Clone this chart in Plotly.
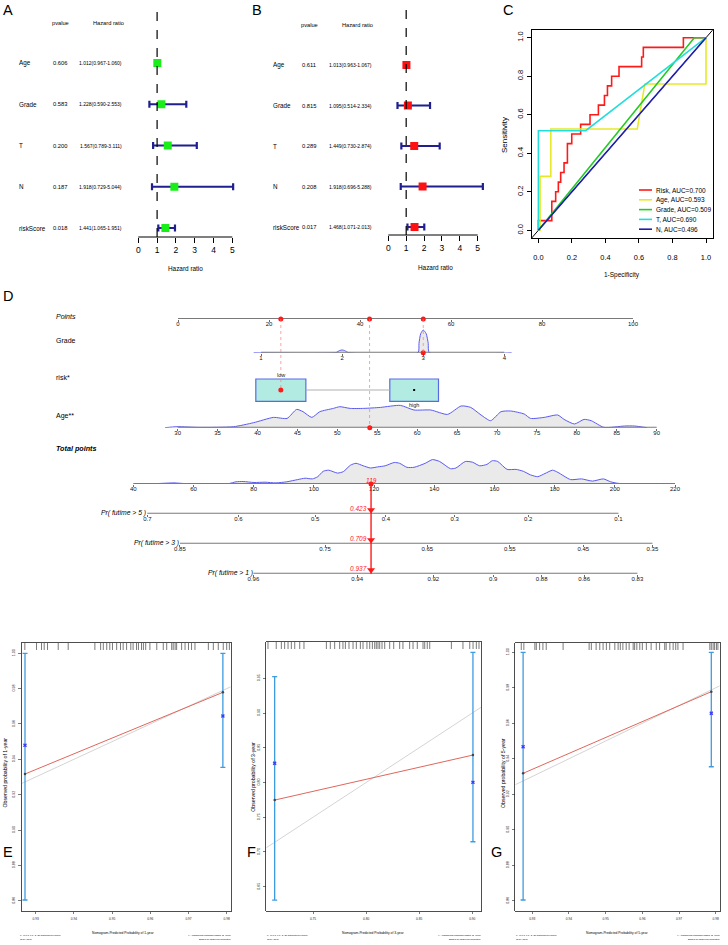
import plotly.graph_objects as go

W, H = 728, 945
REG = "Liberation Sans, Arial, sans-serif"
NAR = "Liberation Sans, Arial, sans-serif"

# ---------------- Panel A / B : forest plots ----------------
forest_vars = ["Age", "Grade", "T", "N", "riskScore"]
uni_p = ["0.606", "0.583", "0.200", "0.187", "0.018"]
uni_hr = [1.012, 1.228, 1.567, 1.918, 1.441]
uni_lo = [0.967, 0.590, 0.789, 0.729, 1.065]
uni_hi = [1.060, 2.553, 3.111, 5.044, 1.951]
multi_p = ["0.611", "0.815", "0.289", "0.208", "0.017"]
multi_hr = [1.013, 1.095, 1.449, 1.918, 1.468]
multi_lo = [0.963, 0.514, 0.730, 0.696, 1.071]
multi_hi = [1.067, 2.334, 2.874, 5.288, 2.013]
hr_ticks = [0, 1, 2, 3, 4, 5]

# ---------------- Panel C : ROC ----------------
roc_names = ["Risk", "Age", "Grade", "T", "N"]
roc_auc = [0.700, 0.593, 0.509, 0.690, 0.496]
risk_fpr = [0, 0, 0.08, 0.08, 0.103, 0.103, 0.119, 0.119, 0.133, 0.133, 0.153, 0.153,
            0.173, 0.173, 0.199, 0.199, 0.252, 0.252, 0.308, 0.308, 0.358, 0.358, 0.394,
            0.394, 0.412, 0.412, 0.437, 0.437, 0.481, 0.481, 0.616, 0.616, 0.626, 0.626,
            0.865, 0.865, 1.0]
risk_tpr = [0, 0.05, 0.05, 0.15, 0.15, 0.20, 0.20, 0.25, 0.25, 0.30, 0.30, 0.35, 0.35,
            0.45, 0.45, 0.50, 0.50, 0.55, 0.55, 0.60, 0.60, 0.65, 0.65, 0.70, 0.70, 0.75,
            0.75, 0.80, 0.80, 0.85, 0.85, 0.90, 0.90, 0.95, 0.95, 1.0, 1.0]
age_fpr = [0, 0.01, 0.01, 0.074, 0.074, 0.59, 0.635, 1.0, 1.0]
age_tpr = [0, 0, 0.28, 0.28, 0.526, 0.526, 0.76, 0.76, 1.0]
grade_fpr = [0, 0.93, 1.0]
grade_tpr = [0, 1.0, 1.0]
t_fpr = [0, 0, 0.282, 1.0]
t_tpr = [0, 0.517, 0.517, 1.0]
n_fpr = [0, 1.0]
n_tpr = [0, 1.0]
roc_ticks = [0, 0.2, 0.4, 0.6, 0.8, 1.0]
roc_colors = ["#ff1a1a", "#e8e82a", "#22cc22", "#22dddd", "#1f1fb0"]

# ---------------- Panel D : nomogram ----------------
points_ticks = [0, 20, 40, 60, 80, 100]
grade_ticks = [1, 2, 3, 4]
age_ticks = [30, 35, 40, 45, 50, 55, 60, 65, 70, 75, 80, 85, 90]
total_ticks = [40, 60, 80, 100, 120, 140, 160, 180, 200, 220]
risk_levels = ["low", "high"]
risk_points = [22.6, 51.9]
grade_dx = [0.91, 1.92, 1.97, 2.0, 2.03, 2.08, 2.936, 2.948, 2.969, 3.0, 3.037, 3.062, 3.075, 4.09]
grade_dh = [0, 0, 2.2, 2.7, 2.2, 0, 0, 9.3, 19, 22.7, 19, 9.3, 0, 0]
age_dx = [28.4, 29.9, 32.8, 37.0, 39.5, 42.0, 43.7, 44.9, 45.7, 46.8, 47.8, 49.5, 50.3,
          51.6, 53.3, 55.4, 57.9, 59.6, 61.7, 63.8, 65.5, 66.7, 68.0, 69.2, 70.5, 71.7,
          73.4, 74.2, 75.9, 77.6, 78.4, 79.7, 80.9, 81.8, 83.4, 86.0, 87.2, 88.8]
age_dh = [0, 1, 0.3, 1, 5, 10.3, 9.3, 18.3, 16, 10.3, 16, 19.3, 21, 19.3, 19.3, 20.3,
          22.3, 17.7, 17.7, 13.3, 21.7, 20.3, 12.7, 7, 16, 16.7, 13.7, 9.3, 10.3, 12.7,
          8.3, 3.7, 8.3, 7, 0.3, 1.7, 1.7, 0]
tp_dx = [45, 49.9, 53.5, 57.2, 63.2, 71.7, 74.1, 76.5, 80.1, 83.8, 87.4, 91.0, 94.6,
         97.1, 99.5, 101.3, 103.1, 104.9, 107.9, 109.8, 112.2, 114.0, 116.4, 118.8,
         121.2, 123.7, 126.7, 128.5, 130.9, 133.3, 137.0, 139.4, 141.8, 145.4, 147.2,
         150.3, 152.7, 155.1, 157.5, 159.3, 161.1, 164.2, 167.2, 169.6, 172.0, 174.4,
         176.8, 179.3, 181.1, 185.3, 188.9, 192.6, 196.2, 198.6, 201.0, 207.1]
tp_dh = [0, 0.7, 1.1, 0.4, 0, 0.4, 2.2, 2.5, 1.5, 1.8, 1.1, 2.2, 4.4, 5.8, 5.1, 7.3,
         12.7, 13.8, 10.9, 12.4, 18.9, 20.7, 18.2, 16.0, 17.1, 18.2, 21.5, 20.7, 16.7,
         16.7, 20.7, 24.4, 22.5, 15.3, 16.0, 22.5, 21.8, 18.2, 19.6, 23.3, 22.5, 14.6,
         14.6, 12.7, 9.1, 7.3, 10.5, 13.8, 11.6, 4.4, 5.1, 2.9, 5.1, 2.2, 0.7, 0]
pr_labels = ["Pr( futime > 5 )", "Pr( futime > 3 )", "Pr( futime > 1 )"]
pr5_probs = ["0.7", "0.6", "0.5", "0.4", "0.3", "0.2", "0.1"]
pr5_pos = [44.65, 74.9, 100.4, 123.9, 146.8, 171.2, 201.2]
pr3_probs = ["0.85", "0.75", "0.65", "0.55", "0.45", "0.35"]
pr3_pos = [55.5, 103.7, 137.7, 165.1, 189.5, 212.5]
pr1_probs = ["0.96", "0.94", "0.92", "0.9", "0.88", "0.86", "0.83"]
pr1_pos = [79.9, 114.4, 139.7, 159.6, 175.7, 189.8, 207.5]
sel_points = [22.6, 42.1, 53.9]      # risk=low, Age, Grade=3
sel_grade = 3
sel_age = 54.06
sel_total = 119
sel_pr = ["0.423", "0.709", "0.937"]

# ---------------- Panels E / F / G : calibration ----------------
e_pred = [0.9272, 0.9790]; e_obs = [0.9317, 0.9779]
e_lo = [0.8604, 0.9355]; e_hi = [1.0, 1.0]; e_corr = [0.9480, 0.9645]
e_rug = [0.92716, 0.93022, 0.93153, 0.93223, 0.9331, 0.9359, 0.93851, 0.9455, 0.9470,
         0.9477, 0.9486, 0.9494, 0.9501, 0.9512, 0.9522, 0.9529, 0.9538, 0.9549, 0.9555,
         0.9564, 0.9569, 0.9577, 0.9582, 0.9588, 0.9599, 0.9617, 0.9634, 0.9643, 0.9656,
         0.9660, 0.9665, 0.9669, 0.9682, 0.9691, 0.9700, 0.9708, 0.9717, 0.9752, 0.9765,
         0.9778, 0.9791, 0.9800, 0.9807]
f_pred = [0.7139, 0.9006]; f_obs = [0.7747, 0.8395]
f_lo = [0.6307, 0.7147]; f_hi = [0.9523, 0.9874]; f_corr = [0.8276, 0.8002]
f_rug = [0.7076, 0.7154, 0.7202, 0.7233, 0.7265, 0.7296, 0.7328, 0.7375, 0.7415, 0.7626,
         0.7663, 0.7704, 0.7751, 0.7782, 0.7805, 0.7839, 0.7877, 0.7908, 0.7946, 0.7971,
         0.8008, 0.8034, 0.8059, 0.8081, 0.8096, 0.8112, 0.8128, 0.8150, 0.8175, 0.8222,
         0.8260, 0.8316, 0.8347, 0.8410, 0.8442, 0.8482, 0.8536, 0.8552, 0.8576, 0.8599,
         0.8803, 0.8912, 0.8976, 0.9007, 0.9038, 0.9063]
g_pred = [0.9275, 0.9788]; g_obs = [0.9318, 0.9778]
g_lo = [0.8604, 0.9355]; g_hi = [1.0, 1.0]; g_corr = [0.9468, 0.9656]
g_rug = [0.9270, 0.9277, 0.9307, 0.9311, 0.9320, 0.9329, 0.9338, 0.9384, 0.9455, 0.9461,
         0.9474, 0.9484, 0.9493, 0.9502, 0.9511, 0.9525, 0.9534, 0.9540, 0.9547, 0.9556,
         0.9564, 0.9575, 0.9579, 0.9585, 0.9593, 0.9600, 0.9611, 0.9624, 0.9638, 0.9647,
         0.9661, 0.9665, 0.9675, 0.9684, 0.9691, 0.9697, 0.9711, 0.9784, 0.9788, 0.9793,
         0.9797, 0.9802, 0.9806]
e_xticks = [0.93, 0.94, 0.95, 0.96, 0.97, 0.98]
e_yticks = [0.86, 0.88, 0.90, 0.92, 0.94, 0.96, 0.98, 1.00]
f_xticks = [0.75, 0.80, 0.85, 0.90]
f_yticks = [0.65, 0.70, 0.75, 0.80, 0.85, 0.90, 0.95]
calib_years = ["1", "3", "5"]

# =====================================================================
fig = go.Figure()
layout = dict(width=W, height=H, margin=dict(l=0, r=0, t=0, b=0, pad=0),
              paper_bgcolor="white", plot_bgcolor="rgba(0,0,0,0)", showlegend=False,
              font=dict(family=REG, color="black"))
shapes, annotations = [], []


def r(n, k):
    return k if n == 1 else f"{k}{n}"


def axkey(n, k):
    return f"{k}axis" if n == 1 else f"{k}axis{n}"


BASE = dict(showgrid=False, zeroline=False, showline=False, ticks="",
            showticklabels=False, fixedrange=True)


def set_axes(n, xpx, ypx, xr, yr, xkw=None, ykw=None):
    xa = dict(BASE)
    xa.update(domain=[xpx[0] / W, xpx[1] / W], range=list(xr), anchor=r(n, "y"))
    if xkw:
        xa.update(xkw)
    ya = dict(BASE)
    ya.update(domain=[1 - ypx[1] / H, 1 - ypx[0] / H], range=list(yr), anchor=r(n, "x"))
    if ykw:
        ya.update(ykw)
    layout[axkey(n, "x")] = xa
    layout[axkey(n, "y")] = ya


def px_ann(text, x, y, size, family=REG, xanchor="center", yanchor="middle",
           color="black", angle=0):
    annotations.append(dict(text=text, x=x / W, y=1 - y / H, xref="paper", yref="paper",
                            showarrow=False, font=dict(size=size, family=family, color=color),
                            xanchor=xanchor, yanchor=yanchor, textangle=angle, borderpad=0))


def add(n, **kw):
    fig.add_trace(go.Scatter(xaxis=r(n, "x"), yaxis=r(n, "y"), hoverinfo="skip", **kw))


def letter(t, x, y):
    px_ann(t, x, y, 14.5, REG)


# ---------------- forest ----------------
def forest(n, xpx, ypx, xr, yr, hr, lo, hi, pv, color, lab_x, p_x, hr_x, hdr_hr_x,
           head_y, title_x, title_y):
    set_axes(n, xpx, ypx, xr, yr,
             xkw=dict(showticklabels=True, ticks="outside", ticklen=5, tickwidth=1,
                      tickcolor="black", tickvals=hr_ticks,
                      ticktext=[str(t) for t in hr_ticks],
                      tickfont=dict(size=8.5, family=NAR), ticklabelstandoff=0))
    rows = [len(forest_vars) - i for i in range(len(forest_vars))]
    xr_, yr_ = r(n, "x"), r(n, "y")
    shapes.append(dict(type="line", xref=xr_, yref=f"{yr_} domain", x0=1, x1=1, y0=0, y1=1,
                       line=dict(color="black", width=1.2, dash="dash")))
    shapes.append(dict(type="line", xref=xr_, yref=f"{yr_} domain", x0=hr_ticks[0],
                       x1=hr_ticks[-1], y0=0, y1=0, line=dict(color="black", width=1)))
    add(n, x=hr, y=rows, mode="markers", cliponaxis=False,
        marker=dict(symbol="square", size=8, color=color, line=dict(width=0)),
        error_x=dict(type="data", symmetric=False,
                     array=[u - h for h, u in zip(hr, hi)],
                     arrayminus=[h - l for h, l in zip(hr, lo)],
                     color="#1f1f8f", thickness=2.2, width=3.5))
    for v, p, h, l, u, y in zip(forest_vars, pv, hr, lo, hi, rows):
        common = dict(y=y, yref=yr_, xref="paper", showarrow=False, borderpad=0)
        annotations.append(dict(text=v, x=lab_x / W, xanchor="left",
                                font=dict(size=6.3, family=NAR), **common))
        annotations.append(dict(text=p, x=p_x / W, xanchor="center",
                                font=dict(size=5.8, family=NAR), **common))
        annotations.append(dict(text=f"{h:.3f}({l:.3f}-{u:.3f})", x=hr_x / W,
                                xanchor="center", font=dict(size=5.0, family=NAR), **common))
    px_ann("pvalue", p_x, head_y, 5.7, NAR)
    px_ann("Hazard ratio", hdr_hr_x, head_y, 5.7, NAR)
    px_ann("Hazard ratio", title_x, title_y, 6.4, NAR)


# A : 0->138.3px, 5->232.3px ; rows 5->63px, 1->228px
forest(1, [130, 245], [10, 237], [-0.441, 5.675], [0.782, 6.285], uni_hr, uni_lo, uni_hi,
       uni_p, "#19ee19", 18, 61, 100.5, 108, 23.5, 185, 268.5)
# B : 0->388.3px, 5->477.7px ; rows 5->65px, 1->227px
forest(2, [380, 490], [10, 235], [-0.464, 5.688], [0.8025, 6.358], multi_hr, multi_lo,
       multi_hi, multi_p, "#ff1111", 271.7, 309.3, 350.5, 357.5, 25, 435.5, 267)
letter("A", 8.3, 10)
letter("B", 256.7, 10)

# ---------------- ROC ----------------
set_axes(3, [531.7, 712.7], [30, 238], [-0.04, 1.04], [-0.04, 1.04],
         xkw=dict(showline=True, mirror=True, linecolor="black", linewidth=1,
                  ticks="outside", ticklen=4, tickwidth=1, tickcolor="black",
                  tickvals=roc_ticks, ticktext=[f"{t:.1f}" for t in roc_ticks],
                  showticklabels=True, tickfont=dict(size=7.4, family=NAR),
                  ticklabelstandoff=8),
         ykw=dict(showline=True, mirror=True, linecolor="black", linewidth=1,
                  ticks="outside", ticklen=4, tickwidth=1, tickcolor="black",
                  tickvals=roc_ticks, ticktext=[f"{t:.1f}" for t in roc_ticks],
                  showticklabels=True, tickangle=-90, tickfont=dict(size=7.5, family=REG),
                  ticklabelstandoff=1))
add(3, x=[-0.04, 1.04], y=[-0.04, 1.04], mode="lines", line=dict(color="black", width=1))
roc_curves = [(risk_fpr, risk_tpr), (age_fpr, age_tpr), (grade_fpr, grade_tpr),
              (t_fpr, t_tpr), (n_fpr, n_tpr)]
for (fx, fy), c in zip(roc_curves, roc_colors):
    add(3, x=fx, y=fy, mode="lines", line=dict(color=c, width=1.6))
for i, (nm, auc, c) in enumerate(zip(roc_names, roc_auc, roc_colors)):
    yy = 190 + 9.8 * i
    shapes.append(dict(type="line", xref="paper", yref="paper", x0=639 / W, x1=652 / W,
                       y0=1 - yy / H, y1=1 - yy / H, line=dict(color=c, width=1.6)))
    px_ann(f"{nm}, AUC={auc:.3f}", 655, yy, 6.5, NAR, xanchor="left")
px_ann("Sensitivity", 505, 135, 8, REG, angle=-90)
px_ann("1-Specificity", 622, 275, 6.5, NAR)
letter("C", 507.5, 10)

# ---------------- Nomogram ----------------
NOMO_TICK = dict(showticklabels=True, ticks="outside", ticklen=2, tickwidth=0.8,
                 tickcolor="#444", tickfont=dict(size=6, family=REG, color="#111"),
                 ticklabelstandoff=-3)
AXLINE = dict(color="#7a7a7a", width=1.8)
DENS_LINE = dict(color="#5a5af0", width=1, shape="spline", smoothing=0.6)
DENS_FILL = "rgba(234,234,234,1)"
TOP_X = [160, 665]
BOT_X = [120, 690]
PTS_R = [-3.956, 107.03]
TOT_R = [35.58, 224.98]
row_px = dict(points=(309, 319), grade=(325, 352.7), risk=(375, 405), age=(395, 427.7),
              total=(450, 484), pr5=(503.7, 513.7), pr3=(533.7, 543.7), pr1=(563.7, 573.7))


def tick_kw(vals, text=None):
    d = dict(NOMO_TICK)
    d.update(tickvals=vals, ticktext=text if text else [str(v) for v in vals])
    return d


def axis_line(n, a, b):
    add(n, x=[a, b], y=[0, 0], mode="lines", line=AXLINE, cliponaxis=False)


set_axes(4, TOP_X, row_px["points"], PTS_R, [0, 1], xkw=tick_kw(points_ticks))
set_axes(5, TOP_X, row_px["grade"], [-0.2454, 5.9815], [0, 27.7], xkw=tick_kw(grade_ticks))
set_axes(6, TOP_X, row_px["risk"], PTS_R, [0, 1])
set_axes(7, TOP_X, row_px["age"], [27.783, 91.04], [0, 32.7], xkw=tick_kw(age_ticks))
set_axes(8, BOT_X, row_px["total"], TOT_R, [0, 34], xkw=tick_kw(total_ticks))

# densities, then axis lines on top
add(5, x=grade_dx, y=grade_dh, mode="lines", line=DENS_LINE, fill="tozeroy", fillcolor=DENS_FILL)
add(7, x=age_dx, y=age_dh, mode="lines", line=DENS_LINE, fill="tozeroy", fillcolor=DENS_FILL)
add(8, x=tp_dx, y=tp_dh, mode="lines", line=DENS_LINE, fill="tozeroy", fillcolor=DENS_FILL)
axis_line(4, points_ticks[0], points_ticks[-1])
axis_line(5, grade_ticks[0], grade_ticks[-1])
axis_line(7, age_ticks[0], age_ticks[-1])
axis_line(8, total_ticks[0], total_ticks[-1])
for n, key, pos, probs in [(9, "pr5", pr5_pos, pr5_probs), (10, "pr3", pr3_pos, pr3_probs),
                           (11, "pr1", pr1_pos, pr1_probs)]:
    set_axes(n, BOT_X, row_px[key], TOT_R, [0, 1], xkw=tick_kw(pos, probs))
    axis_line(n, min(pos), max(pos))

# risk boxes
box_hw = [5.5, 5.35]
by0, by1 = (405 - 401.3) / 30, (405 - 379) / 30
for p, hw in zip(risk_points, box_hw):
    shapes.append(dict(type="rect", xref="x6", yref="y6", x0=p - hw, x1=p + hw, y0=by0, y1=by1,
                       fillcolor="#b2ebe2", line=dict(color="#5a6ae6", width=1.2), layer="below"))
add(6, x=[risk_points[0] + box_hw[0], risk_points[1] - box_hw[1]], y=[0.5, 0.5], mode="lines",
    line=dict(color="#b0b0b0", width=1))
annotations.append(dict(text=risk_levels[0], x=risk_points[0], y=by1, xref="x6", yref="y6",
                        yanchor="bottom", showarrow=False, borderpad=0,
                        font=dict(size=5.5, family=REG, color="#222")))
annotations.append(dict(text=risk_levels[1], x=risk_points[1], y=by0, xref="x6", yref="y6",
                        yanchor="top", showarrow=False, borderpad=0,
                        font=dict(size=5.5, family=REG, color="#222")))
add(6, x=[risk_points[1]], y=[0.5], mode="markers",
    marker=dict(symbol="square", size=2, color="black"))

# red selection marks
RED = "#ff1a1a"
pts_line_y = row_px["points"][1]
targets = [(row_px["risk"][0] + row_px["risk"][1]) / 2, row_px["age"][1], row_px["grade"][1]]
for p, ty in zip(sel_points, targets):
    shapes.append(dict(type="line", xref="x4", yref="paper", x0=p, x1=p, y0=1 - pts_line_y / H,
                       y1=1 - ty / H, line=dict(color="#ff7a7a", width=0.7, dash="dot")))
add(4, x=sel_points, y=[0] * len(sel_points), mode="markers", cliponaxis=False,
    marker=dict(size=5, color=RED))
add(5, x=[sel_grade], y=[0], mode="markers", cliponaxis=False, marker=dict(size=5, color=RED))
add(6, x=[risk_points[0]], y=[0.5], mode="markers", marker=dict(size=5, color=RED))
add(7, x=[sel_age], y=[0], mode="markers", cliponaxis=False, marker=dict(size=5, color=RED))
add(8, x=[sel_total], y=[0], mode="markers", cliponaxis=False, marker=dict(size=5, color=RED))
shapes.append(dict(type="line", xref="x8", yref="paper", x0=sel_total, x1=sel_total,
                   y0=1 - row_px["total"][1] / H, y1=1 - row_px["pr1"][1] / H,
                   line=dict(color=RED, width=1.4)))
annotations.append(dict(text=f"<i>{sel_total}</i>", x=sel_total, xref="x8",
                        y=1 - 480.5 / H, yref="paper", showarrow=False, borderpad=0,
                        font=dict(size=6.5, family=REG, color=RED)))
for n, key, val in [(9, "pr5", sel_pr[0]), (10, "pr3", sel_pr[1]), (11, "pr1", sel_pr[2])]:
    add(n, x=[sel_total], y=[0.38], mode="markers", cliponaxis=False,
        marker=dict(symbol="triangle-down", size=7, color=RED))
    ly = row_px[key][1]
    annotations.append(dict(text=f"<i>{val}</i>", x=sel_total - 1, xref="x8", xanchor="right",
                            y=1 - (ly - 5) / H, yref="paper", showarrow=False, borderpad=0,
                            font=dict(size=6.5, family=REG, color=RED)))

# row labels
px_ann("<i>Points</i>", 55, 316, 7, REG, xanchor="left")
px_ann("Grade", 55, 340, 7, REG, xanchor="left")
px_ann("risk*", 55, 377.7, 7, REG, xanchor="left")
px_ann("Age**", 55, 415.7, 7, REG, xanchor="left")
px_ann("<b><i>Total points</i></b>", 55, 449, 7.2, REG, xanchor="left")
for lab, xr_px, key in zip(pr_labels, [147, 180, 253.5], ["pr5", "pr3", "pr1"]):
    px_ann(f"<i>{lab}</i>", xr_px, row_px[key][1] - 0.5, 6.8, REG, xanchor="right")
letter("D", 8, 296)


# ---------------- calibration ----------------
def calib(n, xpx, ypx, xr, yr, xt, yt, pred, obs, lo, hi, corr, rug, year,
          xlab_x, ylab_x, ylab_y, note_l, note_r, note_lx):
    set_axes(n, xpx, ypx, xr, yr,
             xkw=dict(showline=True, mirror=True, linecolor="#222", linewidth=0.8,
                      ticks="outside", ticklen=2.5, tickwidth=0.6, tickcolor="#222",
                      tickvals=xt, ticktext=[f"{v:.2f}" for v in xt], showticklabels=True,
                      tickfont=dict(size=3.2, family=NAR, color="#222"), ticklabelstandoff=2),
             ykw=dict(showline=True, mirror=True, linecolor="#222", linewidth=0.8,
                      ticks="outside", ticklen=2.5, tickwidth=0.6, tickcolor="#222",
                      tickvals=yt, ticktext=[f"{v:.2f}" for v in yt], showticklabels=True,
                      tickangle=-90, tickfont=dict(size=3.6, family=REG, color="#222"),
                      ticklabelstandoff=2))
    top = yr[1]
    L = 7 * (yr[1] - yr[0]) / (ypx[1] - ypx[0])
    xs, ys = [], []
    for v in rug:
        xs += [v, v, None]
        ys += [top, top - L, None]
    add(n, x=xs, y=ys, mode="lines", line=dict(color="#222", width=0.6))
    add(n, x=list(xr), y=list(xr), mode="lines", line=dict(color="#d4d4d4", width=1))
    add(n, x=pred, y=obs, mode="lines", line=dict(color="#e0665c", width=1))
    add(n, x=pred, y=obs, mode="markers", marker=dict(size=2.5, color="#444"),
        error_y=dict(type="data", symmetric=False,
                     array=[h - o for h, o in zip(hi, obs)],
                     arrayminus=[o - l for o, l in zip(obs, lo)],
                     color="#3d9be0", thickness=1.3, width=2.5))
    add(n, x=pred, y=corr, mode="markers",
        marker=dict(symbol="x", size=3.5, color="#3b3bff", line=dict(width=0)))
    px_ann(f"Nomogram-Predicted Probability of {year}-year", xlab_x, 933, 3.3, NAR)
    px_ann(f"Observed probability of {year}-year", ylab_x, ylab_y, 5.2, REG, angle=-90)
    px_ann(note_l[0], note_lx, 935, 2.4, NAR, xanchor="left")
    px_ann(note_l[1], note_lx, 939.3, 2.4, NAR, xanchor="left")
    px_ann(note_r[0], xpx[1] + 1, 935, 2.4, NAR, xanchor="right")
    px_ann(note_r[1], xpx[1] + 1, 939.3, 2.4, NAR, xanchor="right")


note_left = ("n=497 d=6 p=3, 30 subjects per group", "Gray: ideal")
note_right = ("X - resampling optimism added, B=1000", "Based on observed-predicted")

calib(12, [21.7, 230.7], [643, 910.7], [0.92634, 0.98105], [0.85434, 1.00583],
      e_xticks, e_yticks, e_pred, e_obs, e_lo, e_hi, e_corr, e_rug, calib_years[0],
      123.3, 4.5, 773, note_left, note_right, 19)
calib(13, [266.3, 481.3], [642, 910.7], [0.70603, 0.90847], [0.61545, 1.00225],
      f_xticks, f_yticks, f_pred, f_obs, f_lo, f_hi, f_corr, f_rug, calib_years[1],
      373.5, 253, 776.7, note_left, note_right, 266.3)
calib(14, [515.3, 719.7], [643, 910.7], [0.92537, 0.98109], [0.85436, 1.00524],
      e_xticks, e_yticks, g_pred, g_obs, g_lo, g_hi, g_corr, g_rug, calib_years[2],
      617, 503, 773, note_left, note_right, 514.7)
letter("E", 8, 852)
letter("F", 251, 852)
letter("G", 496, 852)

layout["shapes"] = shapes
layout["annotations"] = annotations
fig.update_layout(**layout)
fig.write_html("out.html", config={"displayModeBar": False, "staticPlot": True},
               post_script="document.body.style.margin='0';document.body.style.padding='0';"
                           "document.body.style.overflow='hidden';")
